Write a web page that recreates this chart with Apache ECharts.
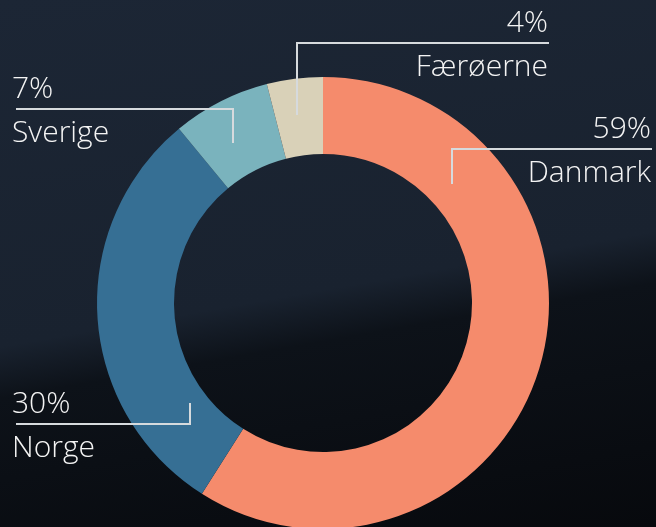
<!DOCTYPE html>
<html>
<head>
<meta charset="utf-8">
<script src="https://cdn.jsdelivr.net/npm/echarts@6/dist/echarts.min.js"></script>
<style>
  html, body { margin: 0; padding: 0; }
  body {
    width: 656px;
    height: 527px;
    overflow: hidden;
    background: linear-gradient(170deg, #1c2635 0%, #19222f 54%, #0d1219 62%, #07090d 100%);
  }
  #chart { width: 656px; height: 527px; }
</style>
</head>
<body>
<div id="chart"></div>
<script>
// data
const countries = ["Danmark", "Norge", "Sverige", "Færøerne"];
const shares = [59, 30, 7, 4];
const colors = ["#f58b6c", "#366f94", "#7ab3bd", "#d9d1b8"];

// where each label sits: anchor inside the ring, underline height, text edge
const labelSpots = [
  { anchor: [452, 184], lineY: 149, edge: 651, align: "right" },
  { anchor: [190, 403], lineY: 424, edge: 12, align: "left" },
  { anchor: [233, 143], lineY: 109, edge: 12, align: "left" },
  { anchor: [297, 115], lineY: 43, edge: 548, align: "right" }
];

const pieData = countries.map((name, i) => ({ name: name, value: shares[i] }));
const textStyle = { fontFamily: "Open Sans", fontWeight: 300, fontSize: 30, lineHeight: 44, color: "#f4f4f4" };

const chart = echarts.init(document.getElementById("chart"));
chart.setOption({
  backgroundColor: "transparent",
  animation: false,
  color: colors,
  series: [
    {
      // the ring itself
      type: "pie",
      z: 2,
      center: [323, 303],
      radius: [149, 226],
      startAngle: 90,
      clockwise: true,
      silent: true,
      itemStyle: { borderWidth: 0 },
      label: { show: false },
      labelLine: { show: false },
      data: pieData
    },
    {
      // same slices, invisible, only to carry labels above the ring
      type: "pie",
      z: 5,
      center: [323, 303],
      radius: [149, 226],
      startAngle: 90,
      clockwise: true,
      silent: true,
      avoidLabelOverlap: false,
      itemStyle: { color: "rgba(0,0,0,0)", borderWidth: 0 },
      label: {
        show: true,
        position: "outside",
        formatter: "{p|{c}%}\n{n|{b}}",
        ...textStyle,
        rich: { p: textStyle, n: textStyle }
      },
      labelLine: {
        show: true,
        smooth: false,
        lineStyle: { color: "#d6dadd", width: 2 }
      },
      labelLayout: function (params) {
        const s = labelSpots[params.dataIndex];
        const start = s.align === "left" ? s.edge + 4 : s.edge + 1;
        return {
          x: s.edge,
          y: s.lineY + 2,
          align: s.align,
          verticalAlign: "middle",
          labelLinePoints: [s.anchor, [s.anchor[0], s.lineY], [start, s.lineY]]
        };
      },
      data: pieData
    }
  ]
});
</script>
</body>
</html>
